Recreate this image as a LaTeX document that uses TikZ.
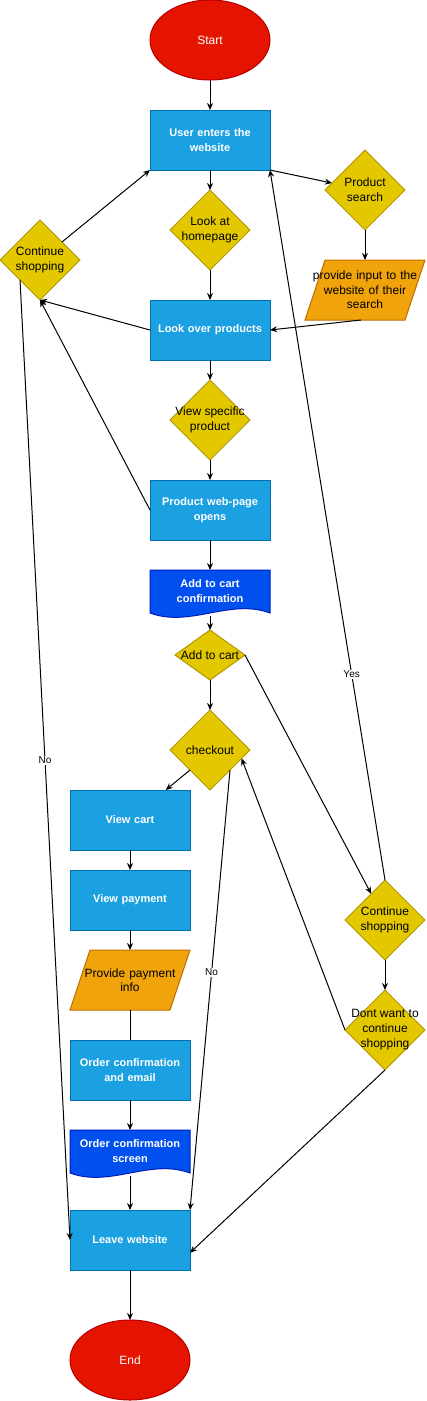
\documentclass[tikz,border=0pt]{standalone}
\usepackage{fontspec}
\setmainfont{Liberation Sans}
\usepackage{xcolor}
\usepackage{tikz}
\usetikzlibrary{positioning,shapes.geometric,arrows.meta,backgrounds}

\definecolor{termfill}{HTML}{E51400}
\definecolor{termline}{HTML}{B20000}
\definecolor{procfill}{HTML}{1BA1E2}
\definecolor{procline}{HTML}{006EAF}
\definecolor{decfill}{HTML}{E3C800}
\definecolor{decline}{HTML}{B09500}
\definecolor{iofill}{HTML}{F0A30A}
\definecolor{ioline}{HTML}{BD7000}
\definecolor{docfill}{HTML}{0050EF}
\definecolor{docline}{HTML}{001DBC}

\begin{document}
\begin{tikzpicture}[x=1pt,y=-1pt,
term/.style={draw=termline,fill=termfill,ellipse,line width=1pt,minimum width=120pt,minimum height=80pt,inner sep=0pt,outer sep=0pt,text=white,font=\fontsize{12}{15}\selectfont},
proc/.style={draw=procline,fill=procfill,rectangle,line width=1pt,minimum width=120pt,minimum height=60pt,inner sep=0pt,outer sep=0pt,text width=116pt,align=center,text=white,font=\fontsize{11}{15}\selectfont\bfseries},
dec/.style={draw=decline,fill=decfill,diamond,line width=1pt,minimum width=80pt,minimum height=80pt,inner sep=0pt,outer sep=0pt},
io/.style={rectangle,minimum width=120pt,minimum height=60pt,inner sep=0pt,outer sep=0pt,text width=120pt,align=center,font=\fontsize{12}{14.5}\selectfont},
ioshape/.style={draw=ioline,fill=iofill,line width=1pt},
doc/.style={minimum width=120pt,minimum height=43pt,inner sep=0pt,outer sep=0pt,text width=120pt,align=center,text=white,font=\fontsize{11}{15}\selectfont\bfseries},
docshape/.style={draw=docline,fill=docfill,line width=1pt},
txt/.style={align=center,inner sep=0pt,font=\fontsize{12}{15}\selectfont},
arr/.style={line width=1pt,-{Stealth[length=7pt,width=6pt]}},
lbl/.style={fill=white,inner sep=1pt,font=\fontsize{10}{12}\selectfont}]
\useasboundingbox (0,0) rectangle (426,1401);
\node (start) [term] at (210,40) {Start};
\node (uew) [proc, below=30pt of start] {User enters the\\website};
\node (lah) [dec, below=20pt of uew, label={[txt]center:Look at\\homepage}] {};
\node (lop) [proc, below=30pt of lah] {Look over products};
\node (vsp) [dec, below=20pt of lop, label={[txt]center:View specific\\product}] {};
\node (pwo) [proc, below=20pt of vsp] {Product web-page\\opens};
\node (acc) [doc, below=30pt of pwo] {Add to cart\\confirmation};
\node (atc) [dec, minimum width=70pt, minimum height=50pt, below=17pt of acc,
    label={[txt]center:Add to cart}] {};
\node (chk) [dec, below=30pt of atc, label={[txt]center:checkout}] {};
\node (vct) [proc] at (130,820) {View cart};
\node (vpy) [proc, below=20pt of vct] {View payment};
\node (ppi) [io, below=20pt of vpy] {Provide payment\\info};
\node (oce) [proc, below=30pt of ppi] {Order confirmation\\and email};
\node (ocs) [doc, below=30pt of oce] {Order confirmation\\screen};
\node (lvw) [proc, below=37pt of ocs] {Leave website};
\node (stop) [term, below=50pt of lvw] {End};
\node (psr) [dec, label={[txt]center:Product\\search}] at (365,190) {};
\node (pin) [io, below=30pt of psr] {provide input to the\\website of their\\search};
\node (csl) [dec, label={[txt]center:Continue\\shopping}] at (40,260) {};
\node (csr) [dec, label={[txt]center:Continue\\shopping}] at (385,920) {};
\node (dwc) [dec, below=30pt of csr,
    label={[txt]center:Dont want to\\continue\\shopping}] {};
\begin{scope}[on background layer]
\draw [docshape] (acc.north west) -- (acc.north east) -- (acc.south east)
    .. controls +(-40,-15) and +(40,15) .. (acc.south west) -- cycle;
\draw [docshape] (ocs.north west) -- (ocs.north east) -- (ocs.south east)
    .. controls +(-40,-15) and +(40,15) .. (ocs.south west) -- cycle;
\draw [ioshape] ([xshift=20pt]ppi.north west) -- (ppi.north east)
    -- ([xshift=-20pt]ppi.south east) -- (ppi.south west) -- cycle;
\draw [ioshape] ([xshift=20pt]pin.north west) -- (pin.north east)
    -- ([xshift=-20pt]pin.south east) -- (pin.south west) -- cycle;
\end{scope}
\draw [arr] (start) -- (uew);
\draw [arr] (uew) -- (lah);
\draw [arr] (lah) -- (lop);
\draw [arr] (uew.south east) -- (psr);
\draw [arr] (psr) -- (pin);
\draw [arr] ([xshift=-4pt]pin.south) -- (lop.east);
\draw [arr] (lop.west) -- (csl.south);
\draw [arr] (pwo.west) -- (csl.south);
\draw [arr] (csl) -- (uew.south west);
\draw [arr] (csl.south west) -- node [lbl, pos=.5] {No} (lvw.west);
\draw [arr] (lop) -- (vsp);
\draw [arr] (vsp) -- (pwo);
\draw [arr] (pwo) -- (acc);
\draw [arr] ([yshift=-3pt]acc.south) -- (atc);
\draw [arr] (atc) -- (chk);
\draw [arr] (atc.east) -- (csr);
\draw [arr] (csr.north) -- node [lbl, pos=.29] {Yes} (uew.south east);
\draw [arr] (csr) -- (dwc);
\draw [arr] (dwc.west) -- (chk.-15);
\draw [arr] (dwc.south) -- (lvw.-12);
\draw [arr] (chk.south west) -- (vct.40);
\draw [arr] (chk.south east) -- node [lbl, pos=.46] {No} (lvw.north east);
\draw [arr] (vct) -- (vpy);
\draw [arr] (vpy) -- (ppi);
\draw [line width=1pt] (ppi) -- (oce);
\draw [arr] (oce) -- (ocs);
\draw [arr] ([yshift=-3pt]ocs.south) -- (lvw);
\draw [arr] (lvw) -- (stop);
\end{tikzpicture}
\end{document}
